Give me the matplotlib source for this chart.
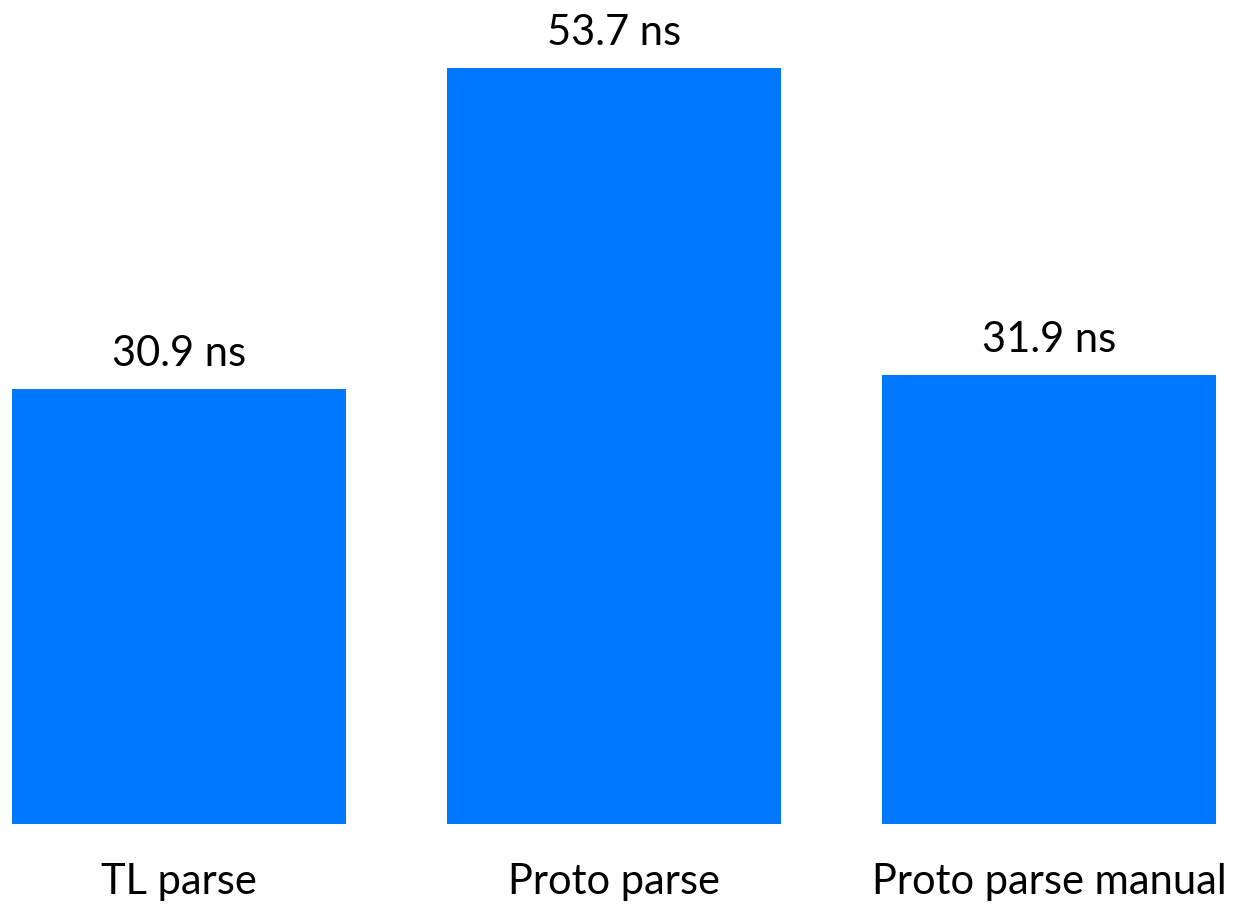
import matplotlib
matplotlib.use("Agg")
import matplotlib.pyplot as plt

categories = ["TL parse", "Proto parse", "Proto parse manual"]
values = [30.9, 53.7, 31.9]
value_labels = ["30.9 ns", "53.7 ns", "31.9 ns"]

plt.rcParams['font.family'] = ['Lato', 'DejaVu Sans']

W, H, DPI = 1246, 912, 100
fig = plt.figure(figsize=(W / DPI, H / DPI), dpi=DPI)
ax = fig.add_axes([0, 0, 1, 1])

spacing_px = 435.0
first_center_px = 179.0
base_px = 87.0
px_per_unit = 14.08

x = list(range(len(categories)))
ax.bar(x, values, width=334 / spacing_px, color="#0077FF")

ax.set_xlim(-first_center_px / spacing_px, (W - first_center_px) / spacing_px)
ax.set_ylim(-base_px / px_per_unit, (H - base_px) / px_per_unit)
ax.axis("off")

for xi, v, lab in zip(x, values, value_labels):
    ax.annotate(lab, (xi, v), xytext=(0, 17), textcoords="offset points",
                ha="center", va="baseline", fontsize=30, color="black")

for xi, cat in zip(x, categories):
    ax.annotate(cat, (xi, 0), xytext=(0, -50), textcoords="offset points",
                ha="center", va="baseline", fontsize=30, color="black")

fig.savefig("out.png", dpi=DPI)
